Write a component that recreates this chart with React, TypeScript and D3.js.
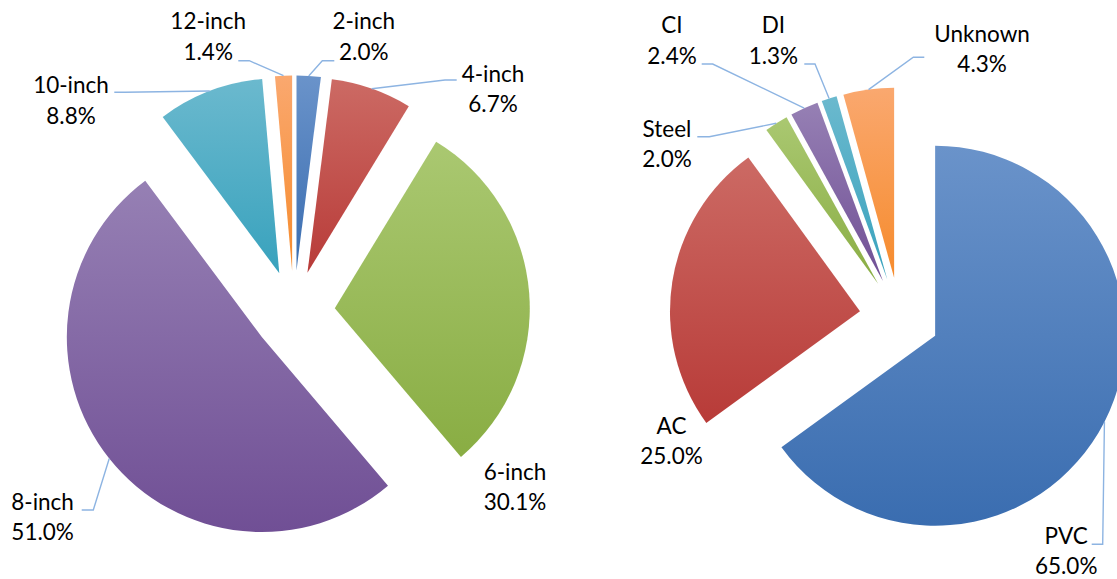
import React from 'react';
import * as d3 from 'd3';

// Pipe inventory shares
const sizeLabels = ['2-inch', '4-inch', '6-inch', '8-inch', '10-inch', '12-inch'];
const sizeShares = [2.0, 6.7, 30.1, 51.0, 8.8, 1.4];

const materialLabels = ['PVC', 'AC', 'Steel', 'CI', 'DI', 'Unknown'];
const materialShares = [65.0, 25.0, 2.0, 2.4, 1.3, 4.3];

// Slice fills: light top -> darker bottom, one pair per category slot
const fillTop = ['#6a93ca', '#cc6a64', '#aac871', '#9680b4', '#6bb9ce', '#faa86f'];
const fillBottom = ['#3a6db0', '#b83b38', '#89ad43', '#704f95', '#38a2bd', '#f68b2c'];

type Placement = {
  x: number; // label centre
  y: number; // first baseline
  elbow?: [number, number];
  stub?: number; // horizontal stub length towards the label (signed)
};

const sizeLayout = {
  cx: 293.9,
  cy: 311.5,
  radius: 195,
  explode: 41,
  labels: [
    { x: 363.8, y: 29.3, elbow: [322.3, 60.7], stub: 12 },
    { x: 493, y: 81.7, elbow: [445, 80], stub: 11.7 },
    { x: 515, y: 480 },
    { x: 42.6, y: 510, elbow: [93.3, 510], stub: -11.6 },
    { x: 71, y: 93.3, elbow: [125, 92.3], stub: -10.7 },
    { x: 208.2, y: 29.3, elbow: [249.3, 60.7], stub: -11 },
  ] as Placement[],
};

const materialLayout = {
  cx: 899.5,
  cy: 317.5,
  radius: 190,
  explode: 40,
  labels: [
    { x: 1066.2, y: 544, elbow: [1102.7, 544.3], stub: -11 },
    { x: 671.5, y: 434 },
    { x: 667, y: 136.7, elbow: [709.3, 136.7], stub: -12 },
    { x: 672, y: 33.3, elbow: [712.7, 64], stub: -11 },
    { x: 773.4, y: 33.3, elbow: [815, 64], stub: -10.7 },
    { x: 982.1, y: 41.7, elbow: [913.3, 57.3], stub: 11 },
  ] as Placement[],
};

const LINE_GAP = 30.3;
const FONT = 'Lato, "Open Sans", sans-serif';

function ExplodedPie({
  id,
  labels,
  values,
  layout,
}: {
  id: string;
  labels: string[];
  values: number[];
  layout: typeof sizeLayout;
}) {
  const { cx, cy, radius, explode } = layout;
  const slices = d3
    .pie<number>()
    .sort(null)
    .value((v) => v)
    .startAngle(0)
    .endAngle(2 * Math.PI)(values);
  const arc = d3.arc<d3.PieArcDatum<number>>().innerRadius(0).outerRadius(radius);

  return (
    <g>
      <defs>
        {slices.map((_, i) => (
          <linearGradient key={i} id={`${id}-g${i}`} x1="0" y1="0" x2="0" y2="1">
            <stop offset="0" stopColor={fillTop[i]} />
            <stop offset="1" stopColor={fillBottom[i]} />
          </linearGradient>
        ))}
      </defs>
      {slices.map((s, i) => {
        const mid = (s.startAngle + s.endAngle) / 2;
        const dx = Math.sin(mid);
        const dy = -Math.cos(mid);
        return (
          <path
            key={i}
            d={arc(s) || ''}
            transform={`translate(${cx + dx * explode},${cy + dy * explode})`}
            fill={`url(#${id}-g${i})`}
          />
        );
      })}
      {slices.map((s, i) => {
        const p = layout.labels[i];
        if (!p.elbow) return null;
        const mid = (s.startAngle + s.endAngle) / 2;
        const r = explode + radius;
        const ax = cx + Math.sin(mid) * r;
        const ay = cy - Math.cos(mid) * r;
        const [ex, ey] = p.elbow;
        const pts: [number, number][] = [
          [ax, ay],
          [ex, ey],
          [ex + (p.stub || 0), ey],
        ];
        return (
          <path
            key={`l${i}`}
            d={d3.line()(pts) || ''}
            fill="none"
            stroke="#8db4e2"
            strokeWidth={1.4}
          />
        );
      })}
      {slices.map((s, i) => {
        const p = layout.labels[i];
        return (
          <text
            key={`t${i}`}
            x={p.x}
            y={p.y}
            textAnchor="middle"
            fontFamily={FONT}
            fontSize={22.5}
            fill="#000"
          >
            <tspan x={p.x}>{labels[i]}</tspan>
            <tspan x={p.x} y={p.y + LINE_GAP}>
              {`${values[i].toFixed(1)}%`}
            </tspan>
          </text>
        );
      })}
    </g>
  );
}

export default function App() {
  return (
    <svg
      width={1117}
      height={579}
      style={{ position: 'absolute', left: 0, top: 0, background: '#fff' }}
    >
      <rect width={1117} height={579} fill="#fff" />
      <ExplodedPie id="size" labels={sizeLabels} values={sizeShares} layout={sizeLayout} />
      <ExplodedPie id="mat" labels={materialLabels} values={materialShares} layout={materialLayout} />
    </svg>
  );
}
